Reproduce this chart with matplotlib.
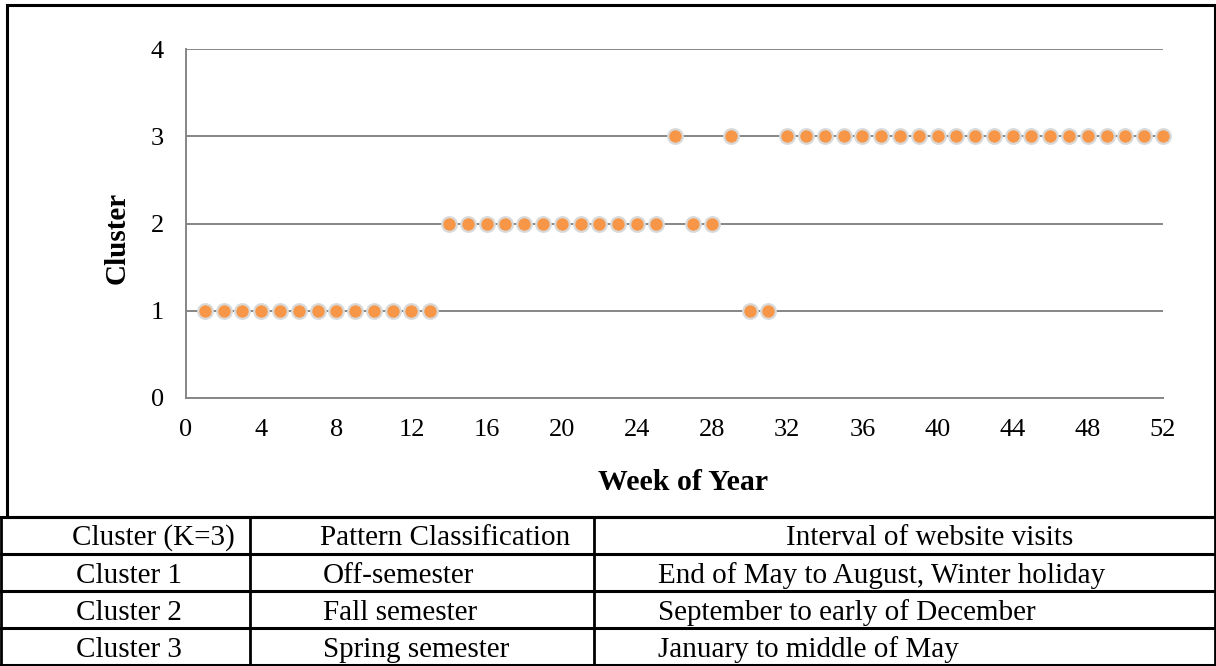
import numpy as np
import matplotlib
matplotlib.use("Agg")
import matplotlib.pyplot as plt
from matplotlib.lines import Line2D

plt.rcParams['font.family'] = ['Liberation Serif', 'DejaVu Serif']

# week of year -> cluster id
weeks = [1, 2, 3, 4, 5, 6, 7, 8, 9, 10, 11, 12, 13,
         14, 15, 16, 17, 18, 19, 20, 21, 22, 23, 24, 25,
         26, 27, 28, 29, 30, 31,
         32, 33, 34, 35, 36, 37, 38, 39, 40, 41, 42, 43, 44, 45, 46, 47, 48, 49, 50, 51, 52]
cluster = [1, 1, 1, 1, 1, 1, 1, 1, 1, 1, 1, 1, 1,
           2, 2, 2, 2, 2, 2, 2, 2, 2, 2, 2, 2,
           3, 2, 2, 3, 1, 1,
           3, 3, 3, 3, 3, 3, 3, 3, 3, 3, 3, 3, 3, 3, 3, 3, 3, 3, 3, 3, 3]
xticks = [0, 4, 8, 12, 16, 20, 24, 28, 32, 36, 40, 44, 48, 52]
yticks = [0, 1, 2, 3, 4]

table_header = ["Cluster (K=3)", "Pattern Classification", "Interval of website visits"]
table_col0 = ["Cluster 1", "Cluster 2", "Cluster 3"]
table_col1 = ["Off-semester", "Fall semester", "Spring semester"]
table_col2 = ["End of May to August, Winter holiday",
              "September to early of December",
              "January to middle of May"]

W, H = 1216, 666
fig = plt.figure(figsize=(W / 100, H / 100), dpi=100)

# chart area
ax = fig.add_axes([186 / W, 1 - 398 / H, (1163 - 186) / W, (398 - 49) / H])
ax.plot(weeks, cluster, linestyle='none', marker='o', markersize=10.5,
        markerfacecolor='#F79646', markeredgecolor='#D9D9D9', markeredgewidth=1.6,
        zorder=3, clip_on=False)
ax.set_xlim(0, 52)
ax.set_ylim(0, 4)
ax.set_xticks(xticks)
ax.set_yticks(yticks)
ax.grid(axis='y', color='#868686', linewidth=1.4)
ax.set_axisbelow(True)
for s in ['top', 'right']:
    ax.spines[s].set_visible(False)
for s in ['left', 'bottom']:
    ax.spines[s].set_color('#868686')
    ax.spines[s].set_linewidth(1.4)
ax.tick_params(axis='both', length=0, labelsize=19)
ax.tick_params(axis='x', pad=15)
ax.tick_params(axis='y', pad=16)
fig.text(117 / W, 1 - 238 / H, "Cluster", fontsize=21, fontweight='bold',
         rotation=90, ha='center', va='center')
fig.text(683 / W, 1 - 483 / H, "Week of Year", fontsize=21.5, fontweight='bold',
         ha='center', va='center')

# overlay in pixel coordinates for the frame and the table
ov = fig.add_axes([0, 0, 1, 1], zorder=-1)
ov.set_xlim(0, W)
ov.set_ylim(H, 0)
ov.axis('off')
ov.add_patch(plt.Rectangle((7, 5), 1208, 512, fill=False, edgecolor='black', linewidth=2.2))

rows_y = [517, 554, 591, 628, 665]
for y in rows_y:
    ov.add_line(Line2D([1, 1215], [y, y], color='black', linewidth=2.2))
for x in [1, 250, 594, 1215]:
    ov.add_line(Line2D([x, x], [517, 665], color='black', linewidth=2.0))

fs = 21
ov.text(153, rows_y[1] - 9, table_header[0], fontsize=fs, ha='center', va='baseline')
ov.text(320, rows_y[1] - 9, table_header[1], fontsize=fs, ha='left', va='baseline')
ov.text(930, rows_y[1] - 9, table_header[2], fontsize=fs, ha='center', va='baseline')
for i in range(3):
    yb = rows_y[i + 2] - 8
    ov.text(129, yb, table_col0[i], fontsize=fs, ha='center', va='baseline')
    ov.text(323, yb, table_col1[i], fontsize=fs, ha='left', va='baseline')
    ov.text(658, yb, table_col2[i], fontsize=fs, ha='left', va='baseline')

fig.savefig("out.png", dpi=100)
